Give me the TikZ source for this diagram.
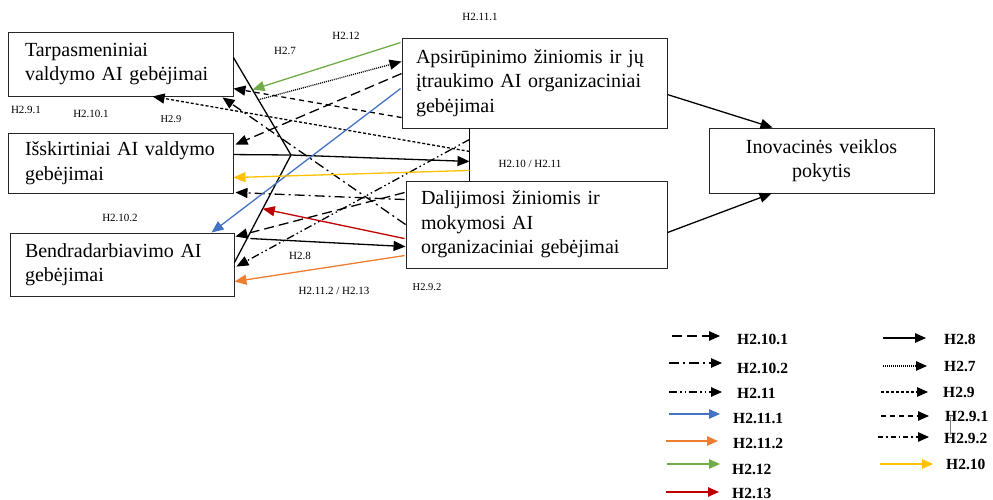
\documentclass[tikz,border=0pt]{standalone}
\usepackage{fontspec}
\setmainfont{Liberation Serif}
\usetikzlibrary{arrows.meta,calc}
\definecolor{cblue}{HTML}{4472C4}
\definecolor{corange}{HTML}{ED7D31}
\definecolor{cgreen}{HTML}{70AD47}
\definecolor{cred}{HTML}{C00000}
\definecolor{cyellow}{HTML}{FFC000}
\begin{document}
\begin{tikzpicture}[x=1pt,y=-1pt,
  box/.style={draw=black!85, line width=0.9pt, inner ysep=0pt, font=\fontsize{20}{24.5}\selectfont},
  lbl/.style={font=\fontsize{11}{12}\selectfont, inner sep=0pt},
  leg/.style={font=\bfseries\fontsize{15.5}{17}\selectfont, inner sep=0pt, anchor=west},
  ln/.style={line width=1.3pt},
  con/.style={line width=1.3pt, -{Triangle[length=12pt,width=10pt]}},
  lcon/.style={line width=1.3pt, -{Triangle[length=11pt,width=9.5pt]}},
  plain/.style={},
  sdash/.style={dash pattern=on 3pt off 2pt},
  mdash/.style={dash pattern=on 5pt off 4pt},
  ldash/.style={dash pattern=on 10pt off 5pt},
  dashdot/.style={dash pattern=on 10pt off 4pt on 2pt off 4pt},
  sdashdot/.style={dash pattern=on 5pt off 3pt on 1.5pt off 3pt},
  dashdotdot/.style={dash pattern=on 8pt off 3pt on 1.5pt off 3pt on 1.5pt off 3pt},
  dotl/.style={dash pattern=on 1pt off 1pt},
]
\useasboundingbox (0,0) rectangle (993,500);

% boxes
\node[box, minimum width=225pt, minimum height=64pt, inner xsep=17pt, text width=191pt, align=left] (tarp) at (120.5,64) {Tarpasmeniniai\\valdymo AI gebėjimai};
\node[box, minimum width=225pt, minimum height=60pt, inner xsep=17pt, text width=191pt, align=left] (iss) at (120.5,163) {Išskirtiniai AI valdymo\\gebėjimai};
\node[box, minimum width=224pt, minimum height=63pt, inner xsep=15pt, text width=194pt, align=left] (bend) at (122,264.5) {Bendradarbiavimo AI\\gebėjimai};
\node[box, minimum width=265pt, minimum height=90pt, inner xsep=14pt, text width=237pt, align=left] (apsi) at (534.5,83) {Apsirūpinimo žiniomis ir jų\\įtraukimo AI organizaciniai\\gebėjimai};
\node[box, minimum width=261pt, minimum height=87pt, inner xsep=15pt, text width=231pt, align=left] (dal) at (536.5,224.5) {Dalijimosi žiniomis ir\\mokymosi AI\\organizaciniai gebėjimai};
\node[box, minimum width=225pt, minimum height=65pt, inner xsep=16pt, text width=193pt, align=center] (inov) at (821.5,160.5) {Inovacinės veiklos\\pokytis};

% helper coordinates
\coordinate (bartop) at ($(apsi.south west)+(68,0)$);
\coordinate (barbot) at ($(dal.north west)+(64,0)$);
\coordinate (j) at (291,155);
\coordinate (t1) at ($(tarp.north east)+(0,26)$);
\coordinate (b1) at ($(bend.north east)+(0,30)$);

% bar
\draw[ln] (bartop) -- (barbot);

% H2.8 solid black
\draw[ln] (t1) -- (j);
\draw[ln] ($(iss.north east)+(0,22)$) -- (j);
\draw[ln] (j) -- (b1);
\draw[con] (j) -- ($(bartop)+(0,33)$);
\draw[con] ($(bend.north east)+(16,6)$) -- ($(dal.north west)+(0,66)$);
\draw[con] ($(apsi.north east)+(0,57)$) -- ($(inov.north west)+(64,0)$);
\draw[con] ($(dal.north east)+(0,52)$) -- ($(inov.south west)+(63,0)$);

% H2.12 green
\draw[con, cgreen] ($(apsi.north west)+(-1,5)$) -- ($(t1)!0.33!(j)$);
% H2.7 dotted
\draw[con, dotl] ($(t1)!0.433!(j)$) -- ($(apsi.north west)+(0,24)$);
% H2.10.1 long dash
\draw[con, ldash] ($(apsi.north west)+(0,36)$) -- ($(iss.north east)+(2,12)$);
% H2.9.1 medium dash
\draw[con, mdash] ($(apsi.north west)+(0,80)$) -- ($(tarp.north east)+(0,57)$);
% H2.9 short dash
\draw[con, sdash] ($(bartop)+(0,23)$) -- ($(tarp.south west)+(145,0)$);
% dash-dot to tarp
\draw[con, dashdot] ($(dal.north west)+(0,44)$) -- ($(tarp.south east)+(-11,1)$);
% dash-dot to iss
\draw[con, dashdot] ($(dal.north west)+(-1,19)$) -- ($(iss.south east)+(2,-1)$);
% long dash to bend
\draw[con, ldash] ($(dal.north west)+(-1,12)$) -- ($(bend.north east)+(1,4)$);
% H2.11 dash-dot-dot
\draw[con, dashdotdot] ($(bartop)+(0,11)$) -- ($(bend.north east)+(2,34)$);
% H2.11.1 blue
\draw[con, cblue] ($(apsi.north west)+(-1,51)$) -- ($(bend.north west)+(202,0)$);
% H2.10 yellow
\draw[con, cyellow] ($(bartop)+(0,42)$) -- ($(iss.north east)+(0,45)$);
% H2.13 red
\draw[con, cred] ($(dal.north west)+(-1,58)$) -- ($(j)!0.5!(b1)$);
% H2.11.2 orange
\draw[con, corange] ($(dal.north west)+(-1,75)$) -- ($(bend.north east)+(0,49)$);

% labels
\node[lbl] (l1) at (480,17) {H2.11.1};
\node[lbl] (l2) at (346,36) {H2.12};
\node[lbl] (l3) at (285,51) {H2.7};
\node[lbl] (l4) at (26,110) {H2.9.1};
\node[lbl] (l5) at (91,114) {H2.10.1};
\node[lbl, font=\fontsize{10.5}{12}\selectfont] (l6) at (171,119) {H2.9};
\node[lbl] (l7) at (530,164) {H2.10 / H2.11};
\node[lbl] (l8) at (120,218) {H2.10.2};
\node[lbl] (l9) at (300,256) {H2.8};
\node[lbl] (l10) at (334,291) {H2.11.2 / H2.13};
\node[lbl, font=\fontsize{10.5}{12}\selectfont] (l11) at (427,287) {H2.9.2};

% legend
\foreach \st/\xa/\xb/\ya/\xl/\yl/\lab [count=\i] in {
  {ldash}/672/720/336/737/339/H2.10.1,
  {dashdot}/669/722/363/737/368/H2.10.2,
  {dashdotdot}/669/722/392/737/393/H2.11,
  {cblue}/669/720/414/733/418/H2.11.1,
  {corange}/666/718/441/733/443/H2.11.2,
  {cgreen}/667/720/464/732/469/H2.12,
  {cred}/666/719/492/732/493/H2.13,
  {plain}/883/926/338/944/339/H2.8,
  {dotl}/883/927/366/944/366/H2.7,
  {sdash}/881/928/392/943/392/H2.9,
  {mdash}/881/929/416/945/416/H2.9.1,
  {sdashdot}/878/929/437/944/438/H2.9.2,
  {cyellow}/880/933/464/946/464/H2.10}{
  \coordinate (la\i) at (\xa,\ya);
  \coordinate (lb\i) at (\xb,\ya);
  \draw[lcon,\st] (la\i) -- (lb\i);
  \node[leg] (lt\i) at (\xl,\yl) {\lab};
}
\coordinate (g1) at (950,417);
\coordinate (g2) at (950,435);
\draw[gray, line width=0.8pt] (g1) -- (g2);
\end{tikzpicture}
\end{document}
